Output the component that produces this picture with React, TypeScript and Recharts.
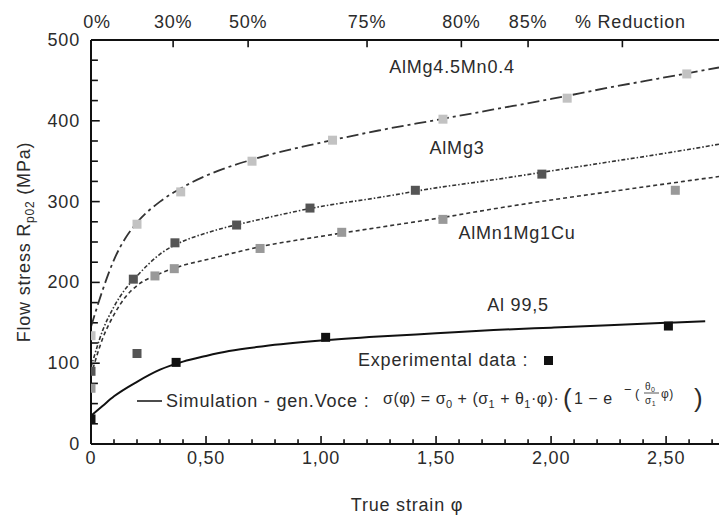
import { ComposedChart, Line, Scatter, XAxis, YAxis, ReferenceLine } from 'recharts'

const FONT = '"Liberation Sans", Arial, Helvetica, sans-serif'
const INK = '#2b2b2b'

// axes
const strainTicks = [
  0, 0.1, 0.2, 0.3, 0.4, 0.5, 0.6, 0.7, 0.8, 0.9, 1, 1.1, 1.2, 1.3, 1.4, 1.5, 1.6, 1.7, 1.8,
  1.9, 2, 2.1, 2.2, 2.3, 2.4, 2.5, 2.6, 2.7,
]
const stressTicks = [
  0, 25, 50, 75, 100, 125, 150, 175, 200, 225, 250, 275, 300, 325, 350, 375, 400, 425, 450,
  475, 500,
]
// top axis: thickness reduction, placed at the matching true strain
const reductionTicks = [0, 0.357, 0.683, 1.2, 1.61, 1.9, 2.31]
const reductionLabels = ['0%', '30%', '50%', '75%', '80%', '85%', '% Reduction']

// [true strain, flow stress MPa]
const almg45Curve = [
  [0, 145], [0.05, 190], [0.1, 228], [0.15, 255], [0.2, 274], [0.3, 300], [0.4, 318],
  [0.5, 332], [0.75, 356], [1, 373], [1.25, 388], [1.5, 401], [1.75, 414], [2, 427],
  [2.25, 441], [2.5, 454], [2.73, 466],
]
const almg45Points = [
  [0, 134], [0.2, 272], [0.39, 312], [0.7, 350], [1.05, 376], [1.53, 402], [2.07, 428],
  [2.59, 458],
]

const almg3Curve = [
  [0, 95], [0.05, 140], [0.1, 170], [0.15, 192], [0.2, 208], [0.3, 235], [0.4, 251],
  [0.5, 261], [0.75, 279], [1, 294], [1.25, 305], [1.5, 317], [1.75, 327], [2, 338],
  [2.25, 349], [2.5, 360], [2.73, 371],
]
const almg3Points = [
  [0, 90], [0.2, 112], [0.184, 204], [0.365, 249], [0.633, 271], [0.952, 292], [1.41, 314],
  [1.96, 334],
]

const almnCurve = [
  [0, 85], [0.05, 130], [0.1, 160], [0.15, 182], [0.2, 196], [0.3, 211], [0.4, 221],
  [0.5, 228], [0.75, 245], [1, 257], [1.25, 268], [1.5, 279], [1.75, 291], [2, 302],
  [2.25, 312], [2.5, 322], [2.73, 331],
]
const almnPoints = [
  [0, 69], [0.278, 208], [0.362, 217], [0.735, 242], [1.09, 262], [1.53, 278], [2.54, 314],
]

const al995Curve = [
  [0, 35], [0.05, 47], [0.1, 59], [0.2, 77], [0.3, 92], [0.4, 102], [0.5, 109], [0.6, 115],
  [0.75, 121], [1, 128], [1.25, 133], [1.5, 137], [1.75, 141], [2, 144], [2.25, 147],
  [2.5, 150], [2.67, 152],
]
const al995Points = [[0, 31], [0.37, 101], [1.02, 132], [2.51, 146]]

const toRows = (pts: number[][]) => pts.map(([phi, v]) => ({ phi, v }))

const square = (fill: string) => (p: any) => (
  <rect x={p.cx - 4.5} y={p.cy - 4.5} width={9} height={9} fill={fill} />
)

const isMajor = (v: number, step: number) => Math.abs(v / step - Math.round(v / step)) < 1e-6

function BottomLabel({ x, y, payload }: any) {
  const v = payload.value
  if (!isMajor(v, 0.5)) return <g />
  return (
    <text x={x} y={y + 20} textAnchor="middle" fontSize={18} letterSpacing={0.8} fill={INK} fontFamily={FONT}>
      {v === 0 ? '0' : v.toFixed(2).replace('.', ',')}
    </text>
  )
}

function LeftLabel({ x, y, payload }: any) {
  const v = payload.value
  if (!isMajor(v, 100)) return <g />
  return (
    <text x={x - 11} y={y + 6} textAnchor="end" fontSize={18} letterSpacing={0.8} fill={INK} fontFamily={FONT}>
      {v}
    </text>
  )
}

function TopLabel({ x, y, payload }: any) {
  const i = reductionTicks.indexOf(payload.value)
  const dx = i === 0 ? 6 : i === reductionTicks.length - 1 ? 8 : 0
  return (
    <text x={x + dx} y={y - 12} textAnchor="middle" fontSize={18} letterSpacing={0.8} fill={INK} fontFamily={FONT}>
      {reductionLabels[i]}
    </text>
  )
}

const W = 719
const H = 519
const domainX: [number, number] = [0, 2.73]
const domainY: [number, number] = [0, 500]
const axisStroke = { stroke: '#111', strokeWidth: 2 }
// inward tick lengths, in data units of the other axis
const xTickLen = (v: number) => (isMajor(v, 0.5) ? 10 : 6)
const yTickLen = (v: number) => (isMajor(v, 100) ? 0.038 : 0.03)

export default function App() {
  const txt = { fontFamily: FONT, fill: INK, fontSize: 18, letterSpacing: 0.8 }
  const f = { fontFamily: FONT, fill: INK, letterSpacing: 0.5 }
  return (
    <div style={{ position: 'absolute', left: 0, top: 0, width: W, height: H, background: '#fff' }}>
      <ComposedChart width={W} height={H} margin={{ top: 0, right: 0, bottom: 0, left: 0 }}>
        <XAxis
          xAxisId="x"
          dataKey="phi"
          type="number"
          domain={domainX}
          allowDataOverflow
          ticks={strainTicks}
          interval={0}
          height={75}
          tickLine={false}
          tickSize={0}
          tickMargin={0}
          tick={(p: any) => <BottomLabel {...p} />}
          axisLine={axisStroke}
        />
        <XAxis
          xAxisId="top"
          dataKey="phi"
          orientation="top"
          type="number"
          domain={domainX}
          allowDataOverflow
          ticks={reductionTicks}
          interval={0}
          height={40}
          tickLine={false}
          tickSize={0}
          tickMargin={0}
          tick={(p: any) => <TopLabel {...p} />}
          axisLine={axisStroke}
        />
        <YAxis
          yAxisId="y"
          dataKey="v"
          type="number"
          domain={domainY}
          allowDataOverflow
          ticks={stressTicks}
          interval={0}
          width={91}
          tickLine={false}
          tickSize={0}
          tickMargin={0}
          tick={(p: any) => <LeftLabel {...p} />}
          axisLine={axisStroke}
        />

        {/* invisible copy so the reduction axis gets a domain */}
        <Line xAxisId="top" yAxisId="y" data={toRows(al995Curve)} dataKey="v"
          stroke="none" dot={false} activeDot={false} legendType="none" isAnimationActive={false} />

        {/* inward tick marks */}
        {strainTicks.slice(1).map((t) => (
          <ReferenceLine key={`xt${t}`} xAxisId="x" yAxisId="y" segment={[{ x: t, y: 0 }, { x: t, y: xTickLen(t) }]}
            stroke="#111" strokeWidth={1.6} ifOverflow="visible" />
        ))}
        {stressTicks.slice(1, -1).map((t) => (
          <ReferenceLine key={`yt${t}`} xAxisId="x" yAxisId="y" segment={[{ x: 0, y: t }, { x: yTickLen(t), y: t }]}
            stroke="#111" strokeWidth={1.6} ifOverflow="visible" />
        ))}
        {reductionTicks.slice(1).map((t) => (
          <ReferenceLine key={`tt${t}`} xAxisId="top" yAxisId="y" segment={[{ x: t, y: 500 }, { x: t, y: 491 }]}
            stroke="#111" strokeWidth={1.6} ifOverflow="visible" />
        ))}

        <Line xAxisId="x" yAxisId="y" data={toRows(almg45Curve)} dataKey="v" type="monotone"
          stroke="#333" strokeWidth={1.8} strokeDasharray="12 4 3 4" dot={false} isAnimationActive={false} />
        <Line xAxisId="x" yAxisId="y" data={toRows(almg3Curve)} dataKey="v" type="monotone"
          stroke="#333" strokeWidth={1.6} strokeDasharray="4 2 1.5 2" dot={false} isAnimationActive={false} />
        <Line xAxisId="x" yAxisId="y" data={toRows(almnCurve)} dataKey="v" type="monotone"
          stroke="#333" strokeWidth={1.6} strokeDasharray="4 3" dot={false} isAnimationActive={false} />
        <Line xAxisId="x" yAxisId="y" data={toRows(al995Curve)} dataKey="v" type="monotone"
          stroke="#111" strokeWidth={2} dot={false} isAnimationActive={false} />

        <Scatter xAxisId="x" yAxisId="y" data={toRows(almg45Points)} dataKey="v"
          shape={square('#c2c2c2')} isAnimationActive={false} />
        <Scatter xAxisId="x" yAxisId="y" data={toRows(almg3Points)} dataKey="v"
          shape={square('#555')} isAnimationActive={false} />
        <Scatter xAxisId="x" yAxisId="y" data={toRows(almnPoints)} dataKey="v"
          shape={square('#999')} isAnimationActive={false} />
        <Scatter xAxisId="x" yAxisId="y" data={toRows(al995Points)} dataKey="v"
          shape={square('#111')} isAnimationActive={false} />
      </ComposedChart>

      <svg width={W} height={H} style={{ position: 'absolute', left: 0, top: 0, pointerEvents: 'none' }}>
        <text {...txt} x={452} y={73} textAnchor="middle">AlMg4.5Mn0.4</text>
        <text {...txt} x={457} y={154} textAnchor="middle">AlMg3</text>
        <text {...txt} x={517} y={239} textAnchor="middle">AlMn1Mg1Cu</text>
        <text {...txt} x={518} y={311} textAnchor="middle">Al 99,5</text>

        <text {...txt} x={358} y={366}>Experimental data :</text>
        <rect x={544} y={356} width={9} height={9} fill="#111" />

        <line x1={137} y1={401} x2={162} y2={401} stroke="#111" strokeWidth={1.5} />
        <text {...txt} x={166} y={407}>Simulation - gen.Voce :</text>

        <text {...f} fontSize={16} x={383} y={404}>
          σ(φ) = σ<tspan fontSize={11} dy={4}>0</tspan>
          <tspan dy={-4}> + (σ</tspan><tspan fontSize={11} dy={4}>1</tspan>
          <tspan dy={-4}> + θ</tspan><tspan fontSize={11} dy={4}>1</tspan>
          <tspan dy={-4}>·φ)·</tspan>
        </text>
        <text {...f} fontSize={26} x={563} y={407}>(</text>
        <text {...f} fontSize={16} x={574} y={404}>1 − e</text>
        <text {...f} fontSize={13} x={624} y={394}>−</text>
        <text {...f} fontSize={13} x={635} y={398}>(</text>
        <text {...f} fontSize={10} x={645} y={390}>θ<tspan fontSize={7} dy={2}>0</tspan></text>
        <line x1={644} y1={393} x2={659} y2={393} stroke={INK} strokeWidth={0.8} />
        <text {...f} fontSize={10} x={645} y={404}>σ<tspan fontSize={7} dy={2}>1</tspan></text>
        <text {...f} fontSize={12} x={661} y={398}>φ)</text>
        <text {...f} fontSize={26} x={694} y={407}>)</text>

        <text {...txt} x={407} y={511} textAnchor="middle">True strain φ</text>
        <text {...txt} transform="rotate(-90)" x={-242} y={30} textAnchor="middle">
          Flow stress R<tspan fontSize={12} dy={4}>p02</tspan><tspan dy={-4}> (MPa)</tspan>
        </text>
      </svg>
    </div>
  )
}
